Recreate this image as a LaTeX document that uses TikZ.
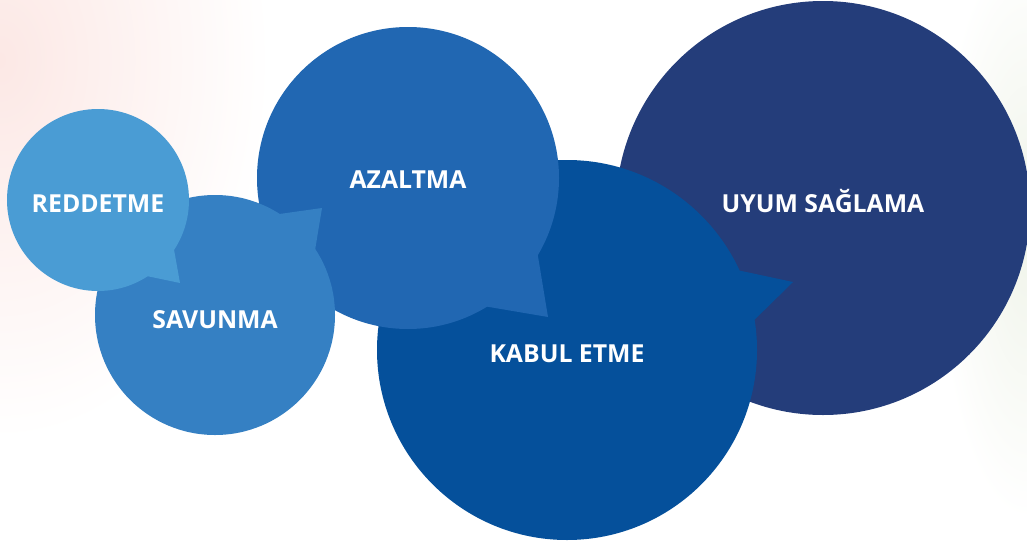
\documentclass[tikz,border=0pt]{standalone}
\usepackage{fontspec}
\setmainfont{Open Sans}
\usetikzlibrary{calc}
\definecolor{cred}{RGB}{74,156,212}
\definecolor{csav}{RGB}{53,128,195}
\definecolor{caz}{RGB}{33,103,178}
\definecolor{ckab}{RGB}{5,80,155}
\definecolor{cuyum}{RGB}{36,61,122}
\definecolor{bgpink}{RGB}{252,232,229}
\definecolor{bggreen}{RGB}{240,244,234}
\begin{document}
\begin{tikzpicture}[x=1pt,y=-1pt,
  bubble/.style={circle, inner sep=0pt, outer sep=0pt, text=white,
    font=\fontsize{24.8}{28}\selectfont\bfseries, text depth=0pt},
]
\useasboundingbox (0,0) rectangle (1027,546);
\fill[white] (0,0) rectangle (1027,546);
\shade[inner color=bgpink, outer color=white] (0,60) ellipse (270 and 380);
\shade[inner color=bggreen, outer color=white] (1027,230) ellipse (90 and 290);

% UYUM SAGLAMA
\node[bubble, fill=cuyum, minimum size=414pt, text height=8.1pt] (uyum) at (823,208) {UYUM SAĞLAMA};

% KABUL ETME
\node[bubble, fill=ckab, minimum size=380pt, text height=24.1pt] (kabul) at (567,350) {KABUL ETME};
\coordinate (kabtip) at (793,282);
\fill[ckab] ($(kabul.center)!0.95!(kabul.27.1)$) -- (kabtip) -- ($(kabul.center)!0.95!(kabul.7.2)$) -- cycle;

% AZALTMA
\node[bubble, fill=caz, minimum size=302pt, text height=21.1pt] (azaltma) at (408,178) {AZALTMA};
\coordinate (aztip) at (548,317);
\fill[caz] ($(azaltma.center)!0.95!(azaltma.-62.9)$) -- (aztip) -- ($(azaltma.center)!0.95!(azaltma.-27.4)$) -- cycle;

% SAVUNMA
\node[bubble, fill=csav, minimum size=240pt, text height=27.1pt] (savunma) at (215,315) {SAVUNMA};
\coordinate (savtip) at (322,208);
\fill[csav] ($(savunma.center)!0.95!(savunma.61.1)$) -- (savtip) -- ($(savunma.center)!0.95!(savunma.30.0)$) -- cycle;

% REDDETME
\node[bubble, fill=cred, minimum size=182pt, text height=24.1pt] (reddetme) at (98,200) {REDDETME};
\coordinate (redtip) at (180,283);
\fill[cred] ($(reddetme.center)!0.95!(reddetme.-30.4)$) -- (redtip) -- ($(reddetme.center)!0.95!(reddetme.-60.9)$) -- cycle;
\end{tikzpicture}
\end{document}
